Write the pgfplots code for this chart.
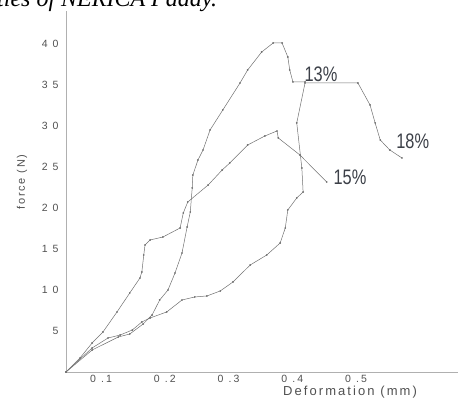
\documentclass[border=0pt]{standalone}
\usepackage{fontspec}
\setmainfont{Liberation Sans}
\usepackage{graphicx}
\usepackage{pgfplots}
\pgfplotsset{compat=1.18}

\newfontfamily\tickfont[LetterSpace=20]{Liberation Sans}
\newfontfamily\labelfont[LetterSpace=16]{Liberation Sans}
\newfontfamily\capfont{Liberation Serif}

\definecolor{curve}{HTML}{707070}
\definecolor{axisgray}{HTML}{B0B0B0}
\definecolor{textgray}{HTML}{505050}
\definecolor{pctgray}{HTML}{3C4048}

\pgfplotsset{fdcurve/.style={draw=curve, line width=0.5pt, mark=*, mark size=0.6pt,
  mark options={fill=curve, draw=curve}}}

% force--deformation curves at three moisture contents
\pgfplotstableread{
x y
0.045 0
0.067 1.71
0.086 3.54
0.103 4.88
0.125 7.32
0.145 9.63
0.161 11.46
0.164 12.20
0.167 14.27
0.169 15.49
0.177 16.10
0.197 16.46
0.224 17.56
0.229 19.39
0.236 20.73
0.268 22.80
0.290 24.63
0.302 25.49
0.330 27.68
0.357 28.78
0.376 29.39
0.378 28.54
0.412 26.46
0.454 23.17
}\fifteen

\pgfplotstableread{
x y
0.045 0
0.086 2.68
0.127 4.27
0.145 4.63
0.166 5.85
0.180 6.95
0.192 8.78
0.205 10.00
0.216 12.07
0.227 14.51
0.235 17.68
0.240 19.51
0.243 22.44
0.244 24.02
0.252 25.85
0.260 27.07
0.271 29.51
0.291 31.95
0.318 35.24
0.330 36.83
0.352 39.02
0.370 40.12
0.384 40.12
0.393 38.41
0.396 36.83
0.401 35.37
0.420 35.37
}\thirteen

\pgfplotstableread{
x y
0.045 0
0.086 2.93
0.111 4.15
0.130 4.51
0.149 5.12
0.164 6.10
0.177 6.59
0.203 7.32
0.227 8.78
0.247 9.15
0.266 9.27
0.287 9.88
0.307 10.98
0.334 13.05
0.360 14.27
0.381 15.73
0.389 17.56
0.393 19.76
0.407 21.22
0.417 21.95
0.415 24.88
0.407 30.37
0.420 35.24
0.503 35.24
0.522 32.56
0.530 30.37
0.538 28.29
0.553 27.07
0.572 26.10
}\eighteen

\begin{document}
\begin{tikzpicture}
\useasboundingbox (0,0) rectangle (459pt,399pt);
\clip (0,0) rectangle (459pt,399pt);

% end of the caption line above the figure
\node[anchor=base west, inner sep=0pt, font=\capfont\itshape\fontsize{24}{28}\selectfont]
  at (-3pt,392pt) {ties of NERICA Paddy.};

\begin{axis}[
  at={(66pt,27pt)}, anchor=south west,
  scale only axis, width=392pt, height=361pt,
  xmin=0.045, xmax=0.66, ymin=0, ymax=44.02,
  axis x line*=bottom, axis y line*=left,
  axis line style={axisgray, line width=0.6pt},
  major tick length=0pt,
  xtick={0.1,0.2,0.3,0.4,0.5},
  xticklabels={0 .1,0 .2,0 .3,0 .4,0 .5},
  ytick={5,10,15,20,25,30,35,40},
  yticklabels={5,1 0,1 5,2 0,2 5,3 0,3 5,4 0},
  ticklabel style={font=\tickfont\fontsize{10.5}{12}\selectfont, text=textgray},
  yticklabel style={xshift=-4pt},
  xlabel={Deformation (mm)},
  xlabel style={at={(axis description cs:0.7245,-0.0554)}, anchor=center,
    font=\labelfont\fontsize{13}{15}\selectfont, text=textgray},
  ylabel={force (N)},
  ylabel style={at={(axis description cs:-0.112,0.526)}, anchor=center,
    font=\labelfont\fontsize{11}{13}\selectfont, text=textgray},
  clip=false,
]
\addplot[fdcurve] table[x=x,y=y] {\fifteen};
\addplot[fdcurve] table[x=x,y=y] {\thirteen};
\addplot[fdcurve] table[x=x,y=y] {\eighteen};

\node[text=pctgray] at (axis cs:0.445,36.34)
  {\scalebox{0.78}[1]{\fontsize{21}{24}\selectfont 13\%}};
\node[text=pctgray] at (axis cs:0.4905,23.78)
  {\scalebox{0.78}[1]{\fontsize{21}{24}\selectfont 15\%}};
\node[text=pctgray] at (axis cs:0.589,28.17)
  {\scalebox{0.78}[1]{\fontsize{21}{24}\selectfont 18\%}};
\end{axis}
\end{tikzpicture}
\end{document}
